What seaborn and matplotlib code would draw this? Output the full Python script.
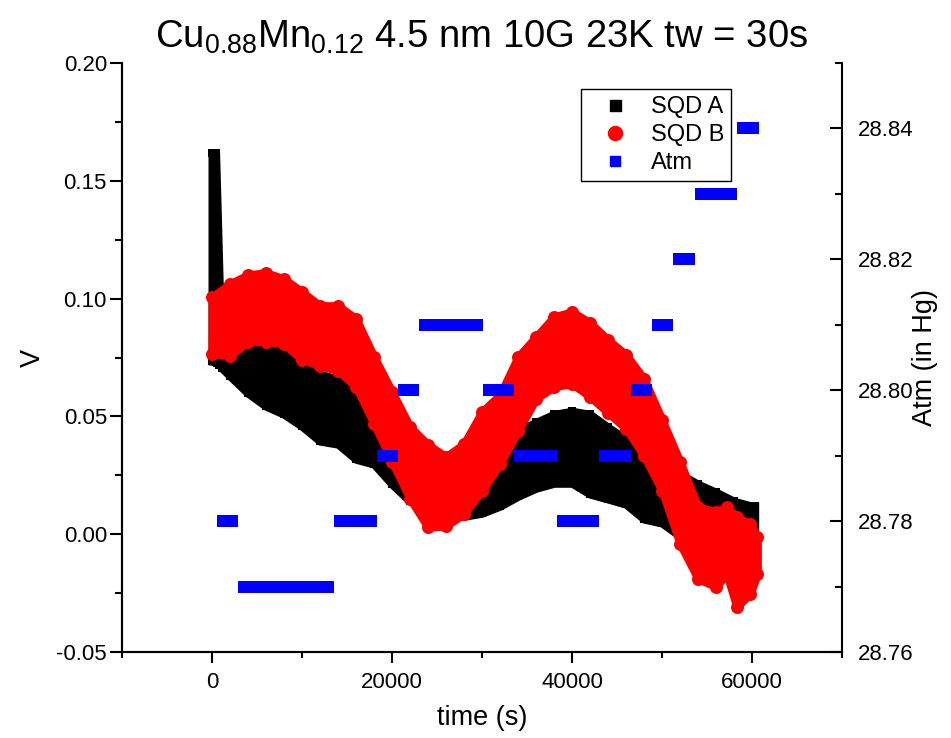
import numpy as np
import pandas as pd
import matplotlib
matplotlib.use("Agg")
import matplotlib.pyplot as plt
import seaborn as sns
from matplotlib.ticker import MultipleLocator, FormatStrFormatter
from matplotlib.lines import Line2D

# ---------------- data ----------------
# SQD A (black squares): band of the noisy signal, lower / upper envelope
time_a = [0, 400, 600, 800, 1100, 2000, 4000, 6000, 8000, 10000, 12000, 14000,
          16000, 18000, 20000, 22000, 24000, 26000, 28000, 30000, 32000, 34000,
          36000, 38000, 40000, 42000, 44000, 46000, 48000, 50000, 52000, 54000,
          56000, 58000, 60000, 60300]
sqd_a_high = [0.162, 0.162, 0.135, 0.107, 0.095, 0.0785, 0.0806, 0.0806, 0.0785,
              0.0721, 0.0679, 0.0658, 0.0594, 0.0467, 0.0382, 0.0382, 0.0361,
              0.0318, 0.0318, 0.0382, 0.0416, 0.0437, 0.0475, 0.0509, 0.0522,
              0.0509, 0.0454, 0.0403, 0.0340, 0.0297, 0.0255, 0.0212, 0.0178,
              0.0140, 0.0119, 0.0119]
sqd_a_low = [0.0734, 0.0732, 0.0726, 0.0720, 0.0705, 0.0671, 0.0598, 0.0543,
             0.0509, 0.0458, 0.0395, 0.0382, 0.0318, 0.0297, 0.0212, 0.0140,
             0.0098, 0.0085, 0.0076, 0.0089, 0.0119, 0.0161, 0.0195, 0.0216,
             0.0216, 0.0170, 0.0149, 0.0127, 0.0064, 0.0047, -0.0008, -0.0030,
             -0.0051, -0.0072, -0.0072, -0.0072]

# SQD B (red circles): lower / upper envelope
time_b = [0, 2000, 4000, 6000, 8000, 10000, 12000, 14000, 16000, 18000, 20000,
          22000, 24000, 26000, 28000, 30000, 32000, 34000, 36000, 38000, 40000,
          42000, 44000, 46000, 48000, 50000, 52000, 54000, 56000, 57200, 58300,
          59800, 60600]
sqd_b_high = [0.1008, 0.1063, 0.1101, 0.1110, 0.1084, 0.1029, 0.0970, 0.0970,
              0.0915, 0.0753, 0.0605, 0.0456, 0.0380, 0.0329, 0.0384, 0.0520,
              0.0592, 0.0753, 0.0838, 0.0923, 0.0944, 0.0898, 0.0825, 0.0762,
              0.0660, 0.0486, 0.0308, 0.0117, 0.0095, 0.0117, 0.0074, 0.0045,
              -0.0011]
sqd_b_low = [0.0766, 0.0758, 0.0817, 0.0817, 0.0808, 0.0741, 0.0715, 0.0694,
             0.0626, 0.0469, 0.0308, 0.0151, 0.0030, 0.0035, 0.0087, 0.0185,
             0.0299, 0.0439, 0.0575, 0.0626, 0.0639, 0.0584, 0.0516, 0.0448,
             0.0333, 0.0185, -0.0040, -0.0189, -0.0223, -0.0168, -0.0308,
             -0.0253, -0.0168]

# Atm (blue squares): runs of constant pressure readings
atm_start = [560, 2890, 13560, 18330, 20670, 23000, 30110, 33560, 38330, 43000,
             46560, 48890, 51220, 53670, 58330]
atm_end = [2890, 13560, 18330, 20670, 23000, 30110, 33560, 38330, 43000, 46560,
           48890, 51220, 53670, 58330, 60780]
atm_value = [28.78, 28.77, 28.78, 28.79, 28.80, 28.81, 28.80, 28.79, 28.78,
             28.79, 28.80, 28.81, 28.82, 28.83, 28.84]

x_ticks = [0, 20000, 40000, 60000]
title = r"Cu$_{0.88}$Mn$_{0.12}$ 4.5 nm 10G 23K tw = 30s"

# ---------------- style ----------------
sns.set_style("ticks")
plt.rcParams["font.family"] = ["Liberation Sans", "DejaVu Sans"]
plt.rcParams["mathtext.fontset"] = "custom"
plt.rcParams["mathtext.rm"] = "Liberation Sans"
plt.rcParams["mathtext.it"] = "Liberation Sans:italic"
plt.rcParams["mathtext.default"] = "regular"
plt.rcParams["text.color"] = "black"
plt.rcParams["axes.labelcolor"] = "black"
plt.rcParams["xtick.color"] = "black"
plt.rcParams["ytick.color"] = "black"
plt.rcParams["xtick.labelcolor"] = "black"
plt.rcParams["ytick.labelcolor"] = "black"

DPI = 100
W, H = 951, 738


def px(p):
    return p * 72.0 / DPI


fig = plt.figure(figsize=(W / DPI, H / DPI), dpi=DPI)
fig.patch.set_facecolor("white")
ax = fig.add_axes([122 / W, (H - 652) / H, 720 / W, 589 / H])
ax2 = ax.twinx()

# SQD A band
ax.fill_between(time_a, sqd_a_low, sqd_a_high, facecolor="black",
                edgecolor="black", linewidth=px(8), joinstyle="miter", zorder=2)
dfa = pd.DataFrame({"t": time_a + time_a, "v": sqd_a_low + sqd_a_high})
sns.scatterplot(data=dfa, x="t", y="v", marker="s", s=px(8) ** 2,
                color="black", linewidth=0, ax=ax, zorder=2, legend=False)

# SQD B band
ax.fill_between(time_b, sqd_b_low, sqd_b_high, facecolor="#ff0000",
                edgecolor="#ff0000", linewidth=px(8), joinstyle="round", zorder=3)
dfb = pd.DataFrame({"t": time_b + time_b, "v": sqd_b_low + sqd_b_high})
sns.scatterplot(data=dfb, x="t", y="v", marker="o", s=px(13) ** 2,
                color="#ff0000", linewidth=0, ax=ax, zorder=3, legend=False)

# Atm runs
lc = ax2.hlines(atm_value, atm_start, atm_end, colors="#0000ff",
                linewidth=px(12), zorder=5)
lc.set_capstyle("butt")

# ---------------- axes ----------------
ax.set_xlim(-10000, 70000)
ax.set_ylim(-0.05, 0.20)
ax2.set_ylim(28.76, 28.85)

ax.set_xticks(x_ticks)
ax.xaxis.set_minor_locator(MultipleLocator(10000))
ax.xaxis.set_major_formatter(FormatStrFormatter("%d"))
ax.yaxis.set_major_locator(MultipleLocator(0.05))
ax.yaxis.set_minor_locator(MultipleLocator(0.025))
ax.yaxis.set_major_formatter(FormatStrFormatter("%.2f"))
ax2.yaxis.set_major_locator(MultipleLocator(0.02))
ax2.yaxis.set_minor_locator(MultipleLocator(0.01))
ax2.yaxis.set_major_formatter(FormatStrFormatter("%.2f"))

lw = 1.5
for a in (ax, ax2):
    a.spines["top"].set_visible(False)
    for s in a.spines.values():
        s.set_linewidth(lw)
        s.set_color("black")
    a.set_facecolor("none")
ax.spines["right"].set_visible(False)

ax.tick_params(axis="x", which="major", direction="out", length=px(11),
               width=lw, labelsize=16, pad=px(9), top=False)
ax.tick_params(axis="x", which="minor", direction="out", length=px(6),
               width=lw, top=False)
ax.tick_params(axis="y", which="major", direction="out", length=px(12),
               width=lw, labelsize=16, pad=px(3), right=False)
ax.tick_params(axis="y", which="minor", direction="out", length=px(7),
               width=lw, right=False)
ax2.tick_params(axis="y", which="major", direction="in", length=px(12),
                width=lw, labelsize=16, pad=px(16), left=False)
ax2.tick_params(axis="y", which="minor", direction="in", length=px(7),
                width=lw, left=False)

ax.set_xlabel("time (s)", fontsize=19.5, color="black")
ax.xaxis.set_label_coords(0.5, (652 - 718) / 589)
ax.xaxis.label.set_va("center")
ax.set_ylabel("V", fontsize=19.5, color="black")
ax.yaxis.set_label_coords((33 - 122) / 720, 0.5)
ax.yaxis.label.set_va("center")
ax2.set_ylabel("Atm (in Hg)", fontsize=19.5, color="black")
ax2.yaxis.set_label_coords((925 - 122) / 720, 0.5)
ax2.yaxis.label.set_va("center")

fig.text(482 / W, 1 - 48 / H, title, ha="center", va="baseline", fontsize=27.5,
         color="black")

# legend
handles = [
    Line2D([], [], ls="none", marker="s", ms=px(11), color="black"),
    Line2D([], [], ls="none", marker="o", ms=px(14), color="#ff0000"),
    Line2D([], [], ls="none", marker="s", ms=px(10), color="#0000ff"),
]
leg = ax2.legend(handles, ["SQD A", "SQD B", "Atm"], loc="upper left",
                 bbox_to_anchor=(581 / W, 1 - 89 / H),
                 bbox_transform=fig.transFigure, fontsize=17, frameon=True,
                 fancybox=False, edgecolor="black", framealpha=1,
                 borderpad=0.3, handlelength=2.3, handletextpad=0.35,
                 labelspacing=0.25, borderaxespad=0)
leg.get_frame().set_linewidth(1.0)
for t in leg.get_texts():
    t.set_color("black")
leg.set_zorder(10)

fig.savefig("out.png", dpi=DPI, facecolor="white")
